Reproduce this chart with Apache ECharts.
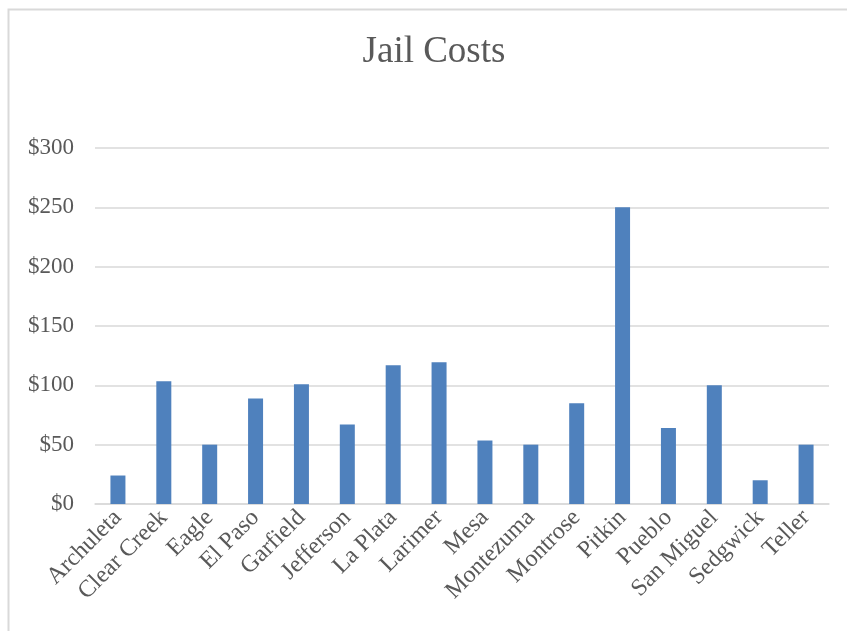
<!DOCTYPE html>
<html>
<head>
<meta charset="utf-8">
<title>Jail Costs</title>
<script src="https://cdn.jsdelivr.net/npm/echarts@6/dist/echarts.min.js"></script>
<style>
  html, body { margin: 0; padding: 0; background: #fff; }
  #chart { width: 847px; height: 631px; }
</style>
</head>
<body>
<div id="chart"></div>
<script>
// counties on the x axis
const counties = ['Archuleta', 'Clear Creek', 'Eagle', 'El Paso', 'Garfield', 'Jefferson',
  'La Plata', 'Larimer', 'Mesa', 'Montezuma', 'Montrose', 'Pitkin', 'Pueblo',
  'San Miguel', 'Sedgwick', 'Teller'];

// jail cost per county
const costs = [24, 103.5, 50, 89, 101, 67, 117, 119.5, 53.5, 50, 85, 250, 64, 100, 20, 50];

// y axis ticks
const yTicks = [0, 50, 100, 150, 200, 250, 300];

const textColor = '#595959';
const serif = '"Liberation Serif", "Times New Roman", serif';

const chart = echarts.init(document.getElementById('chart'), null, { renderer: 'canvas' });

chart.setOption({
  animation: false,
  backgroundColor: '#fff',
  title: {
    text: 'Jail Costs',
    left: 429,
    top: 29,
    textAlign: 'center',
    textStyle: { fontFamily: serif, fontSize: 37, fontWeight: 'normal', color: textColor }
  },
  graphic: [{
    type: 'rect',
    shape: { x: 8.5, y: 9.5, width: 900, height: 700 },
    style: { fill: 'none', stroke: '#d9d9d9', lineWidth: 2 },
    silent: true
  }],
  grid: { left: 95, right: 18, top: 148, bottom: 127 },
  xAxis: {
    type: 'category',
    data: counties,
    axisLine: { lineStyle: { color: '#d9d9d9', width: 1.5 } },
    axisTick: { show: false },
    axisLabel: {
      rotate: 45,
      interval: 0,
      margin: 10,
      fontFamily: serif,
      fontSize: 24,
      color: textColor
    }
  },
  yAxis: {
    type: 'value',
    min: yTicks[0],
    max: yTicks[yTicks.length - 1],
    interval: yTicks[1] - yTicks[0],
    axisLine: { show: false },
    axisTick: { show: false },
    splitLine: { lineStyle: { color: '#d9d9d9', width: 1.5 } },
    axisLabel: {
      margin: 21,
      fontFamily: serif,
      fontSize: 23,
      color: textColor,
      formatter: v => '$' + v
    }
  },
  series: [{
    type: 'bar',
    data: costs,
    barWidth: 15,
    itemStyle: { color: '#4f81bd' }
  }]
});
</script>
</body>
</html>
